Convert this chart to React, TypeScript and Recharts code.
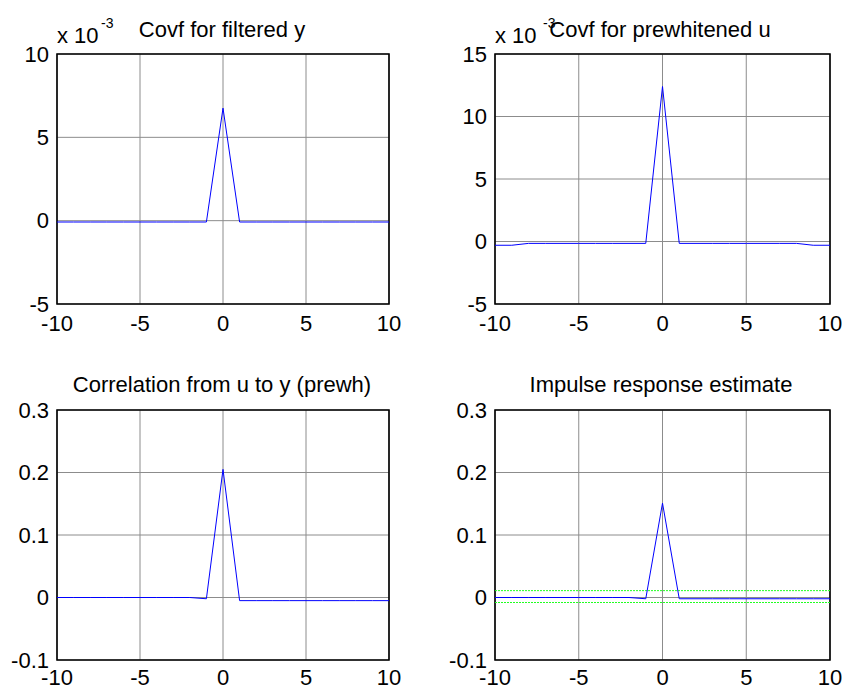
import { LineChart, Line, XAxis, YAxis, CartesianGrid, ReferenceArea, ReferenceLine } from "recharts";

const lags = [-10, -9, -8, -7, -6, -5, -4, -3, -2, -1, 0, 1, 2, 3, 4, 5, 6, 7, 8, 9, 10];

// covariance values are in units of 1e-3 (shown with the "x 10^-3" label)
const covFilteredY = [
    -0.08, -0.08, -0.08, -0.08, -0.08, -0.08, -0.08, -0.08, -0.08, -0.08, 6.75, -0.08, -0.08, -0.08, -0.08, -0.08,
    -0.08, -0.08, -0.08, -0.08, -0.08,
];
const covPrewhitenedU = [
    -0.3, -0.3, -0.15, -0.15, -0.15, -0.15, -0.15, -0.15, -0.15, -0.15, 12.4, -0.15, -0.15, -0.15, -0.15, -0.15, -0.15,
    -0.15, -0.15, -0.3, -0.3,
];
const corrUY = [
    0, 0, 0, 0, 0, 0, 0, 0, 0, -0.002, 0.205, -0.005, -0.005, -0.005, -0.005, -0.005, -0.005, -0.005, -0.005, -0.005,
    -0.005,
];
const impulse = [
    0, 0, 0, 0, 0, 0, 0, 0, 0, -0.002, 0.151, -0.002, -0.002, -0.002, -0.002, -0.002, -0.002, -0.002, -0.002, -0.002,
    -0.002,
];
const confUpper = 0.011;
const confLower = -0.008;

const xTicks = [-10, -5, 0, 5, 10];
const yTicksCovY = [-5, 0, 5, 10];
const yTicksCovU = [-5, 0, 5, 10, 15];
const yTicksCorr = [-0.1, 0, 0.1, 0.2, 0.3];

const titles = ["Covf for filtered y", "Covf for prewhitened u", "Correlation from u to y (prewh)", "Impulse response estimate"];

const font = "'Liberation Sans', Arial, Helvetica, sans-serif";
const tickStyle = { fontSize: 22, fill: "#000", fontFamily: font };

type PanelProps = {
    left: number;
    top: number;
    width: number;
    height: number;
    yWidth: number;
    margin: { top: number; right: number; bottom: number };
    xGap: number;
    values: number[];
    yTicks: number[];
    conf?: boolean;
};

const Panel = ({ left, top, width, height, yWidth, margin, xGap, values, yTicks, conf }: PanelProps) => {
    const data = lags.map((lag, i) => ({ lag, v: values[i] }));
    const y0 = yTicks[0];
    const y1 = yTicks[yTicks.length - 1];
    return (
        <div style={{ position: "absolute", left, top }}>
            <LineChart width={width} height={height} data={data} margin={{ ...margin, left: 0 }}>
                <CartesianGrid stroke="#8c8c8c" strokeWidth={1} />
                <XAxis
                    dataKey="lag"
                    type="number"
                    domain={[-10, 10]}
                    ticks={xTicks}
                    axisLine={false}
                    tickLine={false}
                    tickSize={0}
                    tickMargin={xGap}
                    height={30}
                    tick={tickStyle}
                    interval={0}
                />
                <YAxis
                    type="number"
                    domain={[y0, y1]}
                    ticks={yTicks}
                    axisLine={false}
                    tickLine={false}
                    tickSize={0}
                    tickMargin={8}
                    width={yWidth}
                    tick={tickStyle}
                    interval={0}
                />
                {conf && (
                    <ReferenceLine y={confUpper} stroke="#22ff22" strokeWidth={1} strokeDasharray="2 1" />
                )}
                {conf && (
                    <ReferenceLine y={confLower} stroke="#22ff22" strokeWidth={1} strokeDasharray="2 1" />
                )}
                <Line
                    type="linear"
                    dataKey="v"
                    stroke="#0000ff"
                    strokeWidth={1}
                    dot={false}
                    isAnimationActive={false}
                />
                <ReferenceArea
                    x1={-10}
                    x2={10}
                    y1={y0}
                    y2={y1}
                    fill="none"
                    fillOpacity={0}
                    stroke="#000"
                    strokeWidth={1.6}
                    ifOverflow="visible"
                />
            </LineChart>
        </div>
    );
};

const App = () => {
    return (
        <div style={{ position: "absolute", left: 0, top: 0, width: 845, height: 689, background: "#fff", overflow: "hidden" }}>
            <Panel left={0} top={0} width={420} height={345} yWidth={57} margin={{ top: 54, right: 31, bottom: 11 }} xGap={11} values={covFilteredY} yTicks={yTicksCovY} />
            <Panel left={430} top={0} width={415} height={345} yWidth={65} margin={{ top: 54, right: 15, bottom: 11 }} xGap={11} values={covPrewhitenedU} yTicks={yTicksCovU} />
            <Panel left={0} top={344} width={420} height={345} yWidth={57} margin={{ top: 66, right: 31, bottom: -1 }} xGap={9} values={corrUY} yTicks={yTicksCorr} />
            <Panel left={430} top={344} width={415} height={345} yWidth={65} margin={{ top: 66, right: 15, bottom: -1 }} xGap={9} values={impulse} yTicks={yTicksCorr} conf />
            <svg width={845} height={689} style={{ position: "absolute", left: 0, top: 0, pointerEvents: "none" }}>
                <g fontFamily={font} fill="#000">
                    <text x={57} y={43} fontSize={22}>x 10</text>
                    <text x={101} y={28} fontSize={14}>-3</text>
                    <text x={495} y={43} fontSize={22}>x 10</text>
                    <text x={543} y={28} fontSize={14}>-3</text>
                    <text x={222} y={37} fontSize={22} textAnchor="middle">{titles[0]}</text>
                    <text x={660} y={37} fontSize={22} textAnchor="middle">{titles[1]}</text>
                    <text x={222} y={392} fontSize={22} textAnchor="middle">{titles[2]}</text>
                    <text x={661} y={392} fontSize={22} textAnchor="middle">{titles[3]}</text>
                </g>
            </svg>
        </div>
    );
};

export default App;
